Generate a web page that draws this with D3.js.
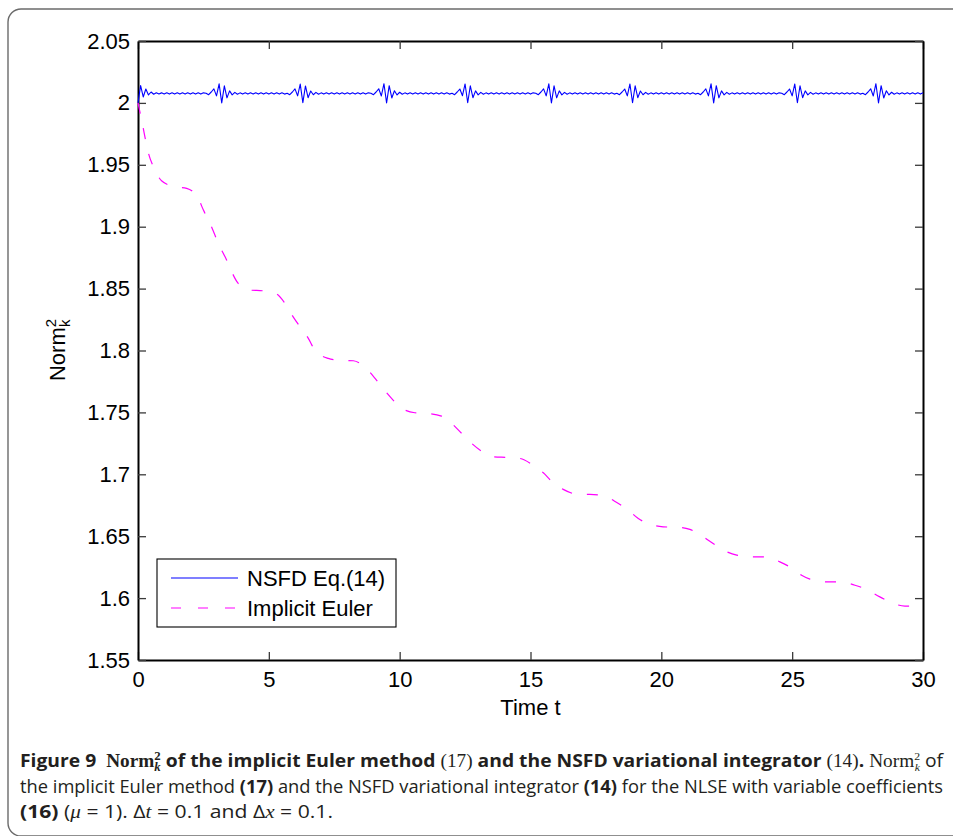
<!DOCTYPE html>
<html>
<head>
<meta charset="utf-8">
<script src="https://cdn.jsdelivr.net/npm/d3@7"></script>
<style>
  body { margin: 0; background: #fff; }
  svg { display: block; }
</style>
</head>
<body>
<svg id="chart" width="953" height="836"></svg>
<script>
// Axis ticks
const xTicks = [0, 5, 10, 15, 20, 25, 30];
const yTicks = [1.55, 1.6, 1.65, 1.7, 1.75, 1.8, 1.85, 1.9, 1.95, 2, 2.05];
const yTickLabels = ["1.55", "1.6", "1.65", "1.7", "1.75", "1.8", "1.85", "1.9", "1.95", "2", "2.05"];

// Series names (legend order)
const seriesNames = ["NSFD Eq.(14)", "Implicit Euler"];

// NSFD variational integrator: Norm_k^2 sampled every time step (dt = 0.1, t = 0..30)
const nsfdStep = 0.1;
const nsfdValues = [
  2.0000, 2.0140, 2.0048, 2.0112, 2.0064, 2.0088, 2.0070, 2.0082, 2.0072, 2.0081,
  2.0071, 2.0081, 2.0071, 2.0081, 2.0071, 2.0081, 2.0071, 2.0081, 2.0071, 2.0081,
  2.0071, 2.0081, 2.0071, 2.0081, 2.0071, 2.0081, 2.0078, 2.0066, 2.0088, 2.0113,
  2.0057, 2.0154, 2.0000, 2.0138, 2.0041, 2.0097, 2.0065, 2.0085, 2.0070, 2.0081,
  2.0071, 2.0081, 2.0071, 2.0081, 2.0071, 2.0081, 2.0071, 2.0081, 2.0071, 2.0081,
  2.0071, 2.0081, 2.0071, 2.0081, 2.0071, 2.0081, 2.0071, 2.0078, 2.0066, 2.0088,
  2.0113, 2.0057, 2.0152, 2.0002, 2.0137, 2.0042, 2.0096, 2.0066, 2.0085, 2.0070,
  2.0081, 2.0071, 2.0081, 2.0071, 2.0081, 2.0071, 2.0081, 2.0071, 2.0081, 2.0071,
  2.0081, 2.0071, 2.0081, 2.0071, 2.0081, 2.0071, 2.0081, 2.0071, 2.0081, 2.0078,
  2.0066, 2.0088, 2.0114, 2.0056, 2.0155, 2.0000, 2.0139, 2.0040, 2.0098, 2.0064,
  2.0086, 2.0070, 2.0081, 2.0071, 2.0081, 2.0071, 2.0081, 2.0071, 2.0081, 2.0071,
  2.0081, 2.0071, 2.0081, 2.0071, 2.0081, 2.0071, 2.0081, 2.0071, 2.0081, 2.0071,
  2.0078, 2.0066, 2.0088, 2.0112, 2.0058, 2.0153, 2.0001, 2.0138, 2.0042, 2.0097,
  2.0065, 2.0085, 2.0070, 2.0081, 2.0071, 2.0081, 2.0071, 2.0081, 2.0071, 2.0081,
  2.0071, 2.0081, 2.0071, 2.0081, 2.0071, 2.0081, 2.0071, 2.0081, 2.0071, 2.0081,
  2.0071, 2.0081, 2.0078, 2.0066, 2.0088, 2.0113, 2.0057, 2.0154, 2.0000, 2.0138,
  2.0041, 2.0097, 2.0065, 2.0085, 2.0070, 2.0081, 2.0071, 2.0081, 2.0071, 2.0081,
  2.0071, 2.0081, 2.0071, 2.0081, 2.0071, 2.0081, 2.0071, 2.0081, 2.0071, 2.0081,
  2.0071, 2.0081, 2.0071, 2.0078, 2.0066, 2.0088, 2.0112, 2.0057, 2.0153, 2.0001,
  2.0138, 2.0042, 2.0096, 2.0066, 2.0085, 2.0070, 2.0081, 2.0071, 2.0081, 2.0071,
  2.0081, 2.0071, 2.0081, 2.0071, 2.0081, 2.0071, 2.0081, 2.0071, 2.0081, 2.0071,
  2.0081, 2.0071, 2.0081, 2.0071, 2.0078, 2.0066, 2.0088, 2.0113, 2.0057, 2.0154,
  2.0000, 2.0139, 2.0041, 2.0097, 2.0065, 2.0085, 2.0070, 2.0081, 2.0071, 2.0081,
  2.0071, 2.0081, 2.0071, 2.0081, 2.0071, 2.0081, 2.0071, 2.0081, 2.0071, 2.0081,
  2.0071, 2.0081, 2.0071, 2.0081, 2.0071, 2.0081, 2.0078, 2.0066, 2.0088, 2.0112,
  2.0057, 2.0153, 2.0001, 2.0138, 2.0042, 2.0097, 2.0065, 2.0085, 2.0070, 2.0081,
  2.0071, 2.0081, 2.0071, 2.0081, 2.0071, 2.0081, 2.0071, 2.0081, 2.0071, 2.0081,
  2.0071, 2.0081, 2.0071, 2.0081, 2.0071, 2.0081, 2.0071, 2.0078, 2.0066, 2.0088,
  2.0114, 2.0056, 2.0155, 2.0000, 2.0139, 2.0040, 2.0098, 2.0064, 2.0086, 2.0070,
  2.0081, 2.0071, 2.0081, 2.0071, 2.0081, 2.0071, 2.0081, 2.0071, 2.0081, 2.0071,
  2.0081
];

// Implicit Euler method: Norm_k^2 at selected times
const eulerTimes = [
  0, 0.14, 0.4, 0.65, 0.9, 1.4, 1.86, 2.3, 2.5, 2.75,
  3.13, 3.39, 3.58, 3.83, 4.28, 4.79, 5.3, 5.62, 5.93, 6.19,
  6.51, 6.76, 7.27, 7.65, 8.23, 8.68, 9.06, 9.31, 9.69, 10.01,
  10.58, 11.03, 11.6, 11.92, 12.37, 12.69, 13.13, 13.58, 14.15, 14.6,
  15.1, 15.49, 15.87, 16.25, 16.83, 17.27, 17.85, 18.2, 18.74, 19.12,
  19.69, 20.07, 20.71, 21.09, 21.6, 21.98, 22.5, 22.88, 23.51, 23.96,
  24.53, 24.91, 25.36, 25.68, 26.32, 26.82, 27.4, 27.84, 28.35, 28.73,
  29.31, 30
];
const eulerValues = [
  2.0000, 1.9860, 1.9593, 1.9458, 1.9371, 1.9323, 1.9310, 1.9229, 1.9134, 1.9027,
  1.8838, 1.8730, 1.8636, 1.8542, 1.8488, 1.8482, 1.8456, 1.8380, 1.8272, 1.8192,
  1.8098, 1.8003, 1.7936, 1.7922, 1.7917, 1.7863, 1.7775, 1.7707, 1.7613, 1.7545,
  1.7497, 1.7492, 1.7470, 1.7424, 1.7330, 1.7262, 1.7187, 1.7141, 1.7136, 1.7128,
  1.7074, 1.7012, 1.6931, 1.6878, 1.6838, 1.6838, 1.6824, 1.6785, 1.6710, 1.6643,
  1.6589, 1.6576, 1.6571, 1.6555, 1.6495, 1.6441, 1.6374, 1.6347, 1.6333, 1.6333,
  1.6293, 1.6252, 1.6185, 1.6153, 1.6131, 1.6131, 1.6104, 1.6070, 1.6010, 1.5970,
  1.5935, 1.5935
];

const svg = d3.select("#chart");
const plot = { left: 138, right: 923, top: 41, bottom: 660 };
const axisFont = "'Liberation Sans', Arial, Helvetica, sans-serif";
const axisSize = 22;

// Figure frame (rounded on the left, open to the right)
svg.append("path")
  .attr("d", "M 960 9 H 21 A 13 13 0 0 0 8 22 V 823 A 13 13 0 0 0 21 836 H 960")
  .attr("fill", "none")
  .attr("stroke", "#6b6b6b")
  .attr("stroke-width", 1.4);

const x = d3.scaleLinear().domain([0, 30]).range([plot.left, plot.right]);
const y = d3.scaleLinear().domain([1.55, 2.05]).range([plot.bottom, plot.top]);

function styleAxis(g, showLabels) {
  g.select(".domain").attr("stroke", "#000").attr("stroke-width", 2);
  g.selectAll(".tick line").attr("stroke", "#3a3a3a").attr("stroke-width", 1.3);
  g.selectAll(".tick text")
    .attr("fill", "#000")
    .style("font-family", axisFont)
    .style("font-size", axisSize + "px");
  if (!showLabels) g.selectAll(".tick text").remove();
}

// Bottom and left axes carry labels; top and right just repeat the ticks
svg.append("g")
  .attr("transform", `translate(0,${plot.bottom})`)
  .call(d3.axisBottom(x).tickValues(xTicks).tickFormat(d3.format("d"))
    .tickSize(-8).tickSizeOuter(0).tickPadding(11))
  .call(g => styleAxis(g, true));

svg.append("g")
  .attr("transform", `translate(0,${plot.top})`)
  .call(d3.axisTop(x).tickValues(xTicks).tickSize(-8).tickSizeOuter(0))
  .call(g => styleAxis(g, false));

svg.append("g")
  .attr("transform", `translate(${plot.left},0)`)
  .call(d3.axisLeft(y).tickValues(yTicks).tickFormat((d, i) => yTickLabels[i])
    .tickSize(-8).tickSizeOuter(0).tickPadding(8))
  .call(g => styleAxis(g, true));

svg.append("g")
  .attr("transform", `translate(${plot.right},0)`)
  .call(d3.axisRight(y).tickValues(yTicks).tickSize(-8).tickSizeOuter(0))
  .call(g => styleAxis(g, false));

// Series lines
const nsfdLine = d3.line()
  .x((d, i) => x(i * nsfdStep))
  .y(d => y(d));

const eulerLine = d3.line()
  .x(d => x(d[0]))
  .y(d => y(d[1]))
  .curve(d3.curveMonotoneX);

svg.append("path")
  .datum(eulerTimes.map((t, i) => [t, eulerValues[i]]))
  .attr("d", eulerLine)
  .attr("fill", "none")
  .attr("stroke", "#ff00ff")
  .attr("stroke-width", 1.2)
  .attr("stroke-dasharray", "11,15");

svg.append("path")
  .datum(nsfdValues)
  .attr("d", nsfdLine)
  .attr("fill", "none")
  .attr("stroke", "#0000ff")
  .attr("stroke-width", 1.1)
  .attr("stroke-linejoin", "round");

// Axis titles
svg.append("text")
  .attr("x", (plot.left + plot.right) / 2)
  .attr("y", 715)
  .attr("text-anchor", "middle")
  .style("font-family", axisFont)
  .style("font-size", axisSize + "px")
  .text("Time t");

const yTitle = svg.append("text")
  .attr("transform", "translate(65,350) rotate(-90)")
  .attr("text-anchor", "middle")
  .style("font-family", axisFont)
  .style("font-size", axisSize + "px");
yTitle.append("tspan").text("Norm");
yTitle.append("tspan").attr("dy", -9).style("font-size", "15px").text("2");
yTitle.append("tspan").attr("dx", -8).attr("dy", 14).style("font-size", "15px").text("k");

// Legend
const legend = svg.append("g");
legend.append("rect")
  .attr("x", 157).attr("y", 559).attr("width", 239).attr("height", 68)
  .attr("fill", "#fff").attr("stroke", "#000").attr("stroke-width", 1.1);
const legendRows = [
  { name: seriesNames[0], color: "#0000ff", dash: null, cy: 578 },
  { name: seriesNames[1], color: "#ff00ff", dash: "10,17", cy: 608 }
];
legendRows.forEach(r => {
  legend.append("line")
    .attr("x1", 171).attr("x2", 238).attr("y1", r.cy).attr("y2", r.cy)
    .attr("stroke", r.color).attr("stroke-width", 1.1)
    .attr("stroke-dasharray", r.dash);
  legend.append("text")
    .attr("x", 247).attr("y", r.cy + 8)
    .style("font-family", axisFont)
    .style("font-size", axisSize + "px")
    .text(r.name);
});

// Caption
const capSans = "'Liberation Sans Narrow', 'Open Sans', 'Noto Sans', sans-serif";
const capSerif = "'Liberation Serif', 'DejaVu Serif', serif";
const capSize = 18;

function captionLine(yPos, length, parts) {
  const t = svg.append("text")
    .attr("x", 20).attr("y", yPos)
    .attr("textLength", length)
    .attr("lengthAdjust", "spacingAndGlyphs")
    .style("font-family", capSans)
    .style("font-size", capSize + "px")
    .attr("fill", "#231f20")
    .attr("xml:space", "preserve");
  parts.forEach(p => {
    const s = t.append("tspan").text(p.text);
    if (p.bold) s.style("font-weight", "bold");
    if (p.italic) s.style("font-style", "italic");
    if (p.serif) s.style("font-family", capSerif);
    if (p.size) s.style("font-size", p.size + "px");
    if (p.dx) s.attr("dx", p.dx);
    if (p.dy) s.attr("dy", p.dy);
  });
}

captionLine(767, 923, [
  { text: "Figure 9\u00a0\u00a0", bold: true },
  { text: "Norm", bold: true, serif: true },
  { text: "2", bold: true, serif: true, size: 12, dy: -7 },
  { text: "k", bold: true, serif: true, italic: true, size: 12, dx: -6, dy: 11 },
  { text: " of the implicit Euler method ", bold: true, dy: -4 },
  { text: "(17)", serif: true },
  { text: " and the NSFD variational integrator ", bold: true },
  { text: "(14)", serif: true },
  { text: ". ", bold: true },
  { text: "Norm", serif: true },
  { text: "2", serif: true, size: 11, dy: -7 },
  { text: "k", serif: true, italic: true, size: 11, dx: -5, dy: 11 },
  { text: " of", dy: -4 }
]);

captionLine(793, 923, [
  { text: "the implicit Euler method " },
  { text: "(17)", bold: true },
  { text: " and the NSFD variational integrator " },
  { text: "(14)", bold: true },
  { text: " for the NLSE with variable coefficients" }
]);

captionLine(818, 313, [
  { text: "(16)", bold: true },
  { text: " (" },
  { text: "\u03bc", serif: true, italic: true },
  { text: " = 1). \u0394" },
  { text: "t", serif: true, italic: true },
  { text: " = 0.1 and \u0394" },
  { text: "x", serif: true, italic: true },
  { text: " = 0.1." }
]);
</script>
</body>
</html>
